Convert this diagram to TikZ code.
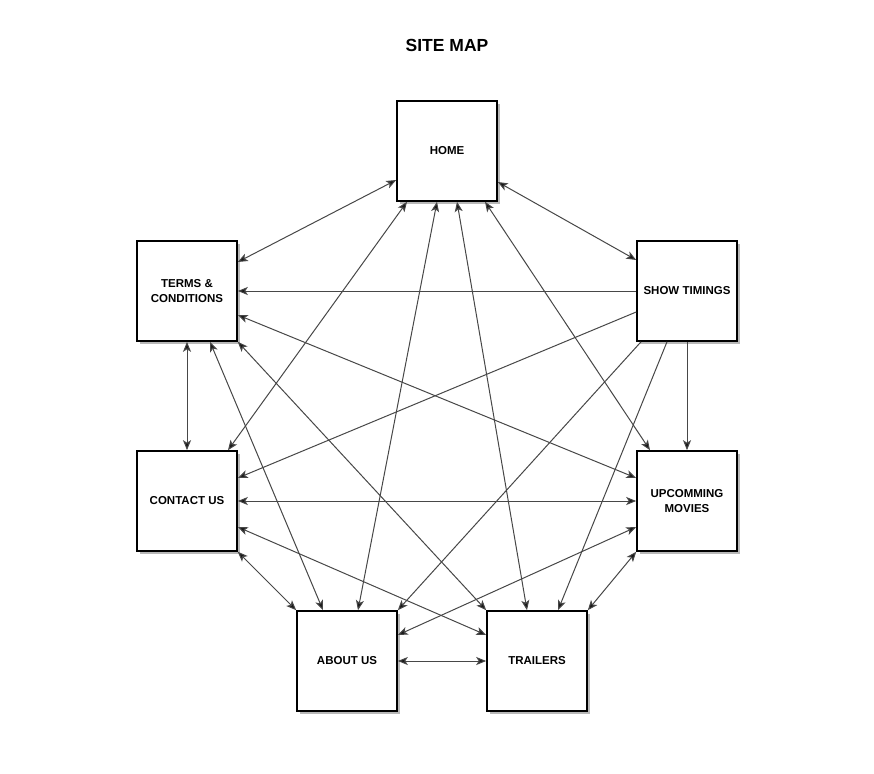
\documentclass[tikz,border=0pt]{standalone}
\usepackage{fontspec}
\setmainfont{Liberation Sans}
\usetikzlibrary{arrows.meta,shadows}

\begin{document}
\begin{tikzpicture}[x=1pt, y=-1pt,
		page/.style={draw, line width=1.6pt, fill=white, minimum size=100pt, inner sep=2pt,
			align=center, font=\bfseries\fontsize{11.5}{15}\selectfont,
			drop shadow={shadow xshift=3pt, shadow yshift=-3pt, fill=black!28, opacity=1}},
		tip/.tip={Stealth[length=10pt, width=8pt, inset=2.5pt, fill=black!90]},
		link/.style={draw=black!72, line width=1pt, -tip},
		both/.style={link, tip-tip}]
			%%%%% START %%%%%
			
			\useasboundingbox (0, 0) rectangle (874, 773);
			
			\node[font=\bfseries\fontsize{17.5}{20}\selectfont] (title) at (447, 45) {SITE MAP};
			
			\node[page] (home) at (447, 151) {HOME};
			\node[page] (terms) at (187, 291) {TERMS \&\\CONDITIONS};
			\node[page] (show) at (687, 291) {SHOW TIMINGS};
			\node[page] (contact) at (187, 501) {CONTACT US};
			\node[page] (upcoming) at (687, 501) {UPCOMMING\\MOVIES};
			\node[page] (about) at (347, 661) {ABOUT US};
			\node[page] (trailers) at (537, 661) {TRAILERS};
			
			% from home
			\draw[both] ([yshift=-29pt]home.west) -- ([yshift=29pt]terms.east);
			\draw[both] ([xshift=-40pt]home.south) -- ([xshift=41pt]contact.north);
			\draw[both] ([xshift=-10pt]home.south) -- ([xshift=11pt]about.north);
			\draw[both] ([xshift=10pt]home.south) -- ([xshift=-10pt]trailers.north);
			\draw[both] ([xshift=38pt]home.south) -- ([xshift=-37pt]upcoming.north);
			\draw[both] ([yshift=-31pt]home.east) -- ([yshift=31pt]show.west);
			
			% from show timings
			\draw[link] (show.west) -- (terms.east);
			\draw[link] ([yshift=-21pt]show.west) -- ([yshift=23pt]contact.east);
			\draw[link] ([xshift=-46pt]show.south) -- (about.north east);
			\draw[link] ([xshift=-20pt]show.south) -- ([xshift=21pt]trailers.north);
			\draw[link] (show.south) -- (upcoming.north);
			
			% from terms
			\draw[both] (terms.south) -- (contact.north);
			\draw[both] ([xshift=23pt]terms.south) -- ([xshift=-24pt]about.north);
			\draw[both] (terms.south east) -- (trailers.north west);
			\draw[both] ([yshift=-24pt]terms.east) -- ([yshift=23pt]upcoming.west);
			
			% from contact
			\draw[both] (contact.east) -- (upcoming.west);
			\draw[both] ([yshift=-26pt]contact.east) -- ([yshift=26pt]trailers.west);
			\draw[both] (contact.south east) -- (about.north west);
			
			% from upcoming and about
			\draw[both] ([yshift=-26pt]upcoming.west) -- ([yshift=26pt]about.east);
			\draw[both] (upcoming.south west) -- (trailers.north east);
			\draw[both] (about.east) -- (trailers.west);
			
			%%%%% END %%%%%
		\end{tikzpicture}
\end{document}
